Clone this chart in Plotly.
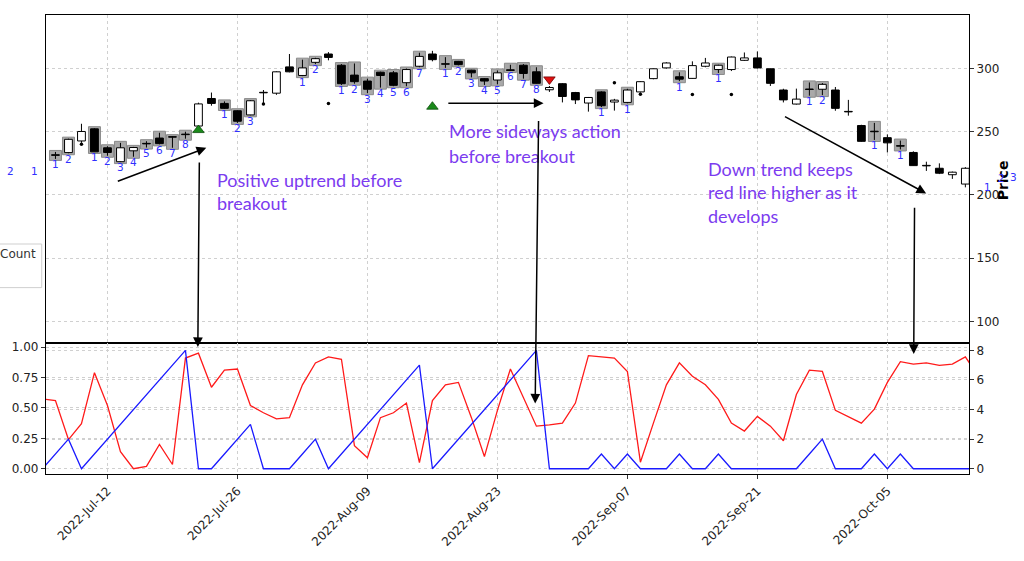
import plotly.graph_objects as go

# ---------------- data ----------------
dates = [
    "2022-07-05", "2022-07-06", "2022-07-07", "2022-07-08", "2022-07-11", "2022-07-12", "2022-07-13",
    "2022-07-14", "2022-07-15", "2022-07-18", "2022-07-19", "2022-07-20", "2022-07-21", "2022-07-22",
    "2022-07-25", "2022-07-26", "2022-07-27", "2022-07-28", "2022-07-29",
    "2022-08-01", "2022-08-02", "2022-08-03", "2022-08-04", "2022-08-05", "2022-08-08", "2022-08-09",
    "2022-08-10", "2022-08-11", "2022-08-12", "2022-08-15", "2022-08-16", "2022-08-17", "2022-08-18",
    "2022-08-19", "2022-08-22", "2022-08-23", "2022-08-24", "2022-08-25", "2022-08-26", "2022-08-29",
    "2022-08-30", "2022-08-31",
    "2022-09-01", "2022-09-02", "2022-09-06", "2022-09-07", "2022-09-08", "2022-09-09", "2022-09-12",
    "2022-09-13", "2022-09-14", "2022-09-15", "2022-09-16", "2022-09-19", "2022-09-20", "2022-09-21",
    "2022-09-22", "2022-09-23", "2022-09-26", "2022-09-27", "2022-09-28", "2022-09-29", "2022-09-30",
    "2022-10-03", "2022-10-04", "2022-10-05", "2022-10-06", "2022-10-07", "2022-10-10", "2022-10-11",
    "2022-10-12", "2022-10-13", "2022-10-14",
]
candle_dates = dates[1:72]

opens = [231.8, 233.5, 242.7, 252.3, 237.3, 226.3, 234.9, 240.8, 245.0, 246.1,
         248.1, 254.5, 276.3, 272.4, 266.6, 263.3, 281.2, 280.5, 301.3, 294.5,
         304.9, 311.5, 302.6, 294.8, 290.1, 297.1, 296.6, 288.8, 301.8, 311.5,
         303.8, 305.7, 298.7, 292.0, 290.9, 299.0, 302.6, 297.4, 283.2, 288.0,
         281.0, 272.7, 281.5, 273.5, 273.2, 281.5, 292.0, 300.5, 293.5, 292.2,
         301.8, 299.2, 299.2, 306.5, 308.4, 299.8, 283.0, 271.9, 283.8, 283.6,
         283.0, 266.1, 254.9, 250.4, 245.3, 239.0, 233.6, 223.4, 221.1, 216.0,
         208.6]
highs = [234.0, 244.5, 256.3, 252.8, 238.5, 241.2, 238.0, 242.5, 249.2, 246.5,
         250.0, 273.0, 281.0, 274.0, 267.0, 275.0, 283.0, 297.8, 311.5, 307.0,
         308.5, 313.0, 303.5, 304.0, 292.0, 297.5, 298.0, 300.0, 312.5, 314.0,
         309.0, 306.0, 299.0, 292.5, 298.5, 303.0, 303.5, 301.0, 286.2, 288.5,
         281.5, 277.5, 282.0, 276.0, 284.0, 290.0, 300.0, 305.0, 297.0, 305.7,
         308.4, 303.0, 309.5, 312.7, 313.5, 300.0, 284.0, 284.1, 289.0, 288.5,
         285.4, 275.2, 255.5, 257.0, 247.9, 243.0, 234.5, 226.3, 225.0, 218.5,
         222.0]
lows = [228.5, 233.0, 241.2, 234.0, 231.0, 226.0, 230.2, 237.5, 240.0, 237.3,
        244.5, 254.0, 270.6, 268.0, 257.0, 263.0, 272.5, 279.2, 297.0, 294.0,
        303.5, 306.5, 287.0, 288.0, 280.5, 284.9, 286.0, 286.0, 301.0, 305.7,
        300.5, 302.5, 293.0, 287.0, 287.5, 298.0, 292.0, 288.0, 281.5, 273.2,
        271.9, 265.9, 269.5, 266.7, 272.5, 281.0, 291.5, 300.0, 290.0, 292.0,
        301.0, 296.5, 298.0, 306.0, 300.0, 286.2, 273.2, 271.5, 278.5, 279.0,
        266.6, 262.7, 242.0, 243.5, 233.6, 236.0, 223.0, 219.0, 216.5, 212.7,
        206.0]
closes = [231.3, 244.0, 250.2, 234.1, 233.6, 237.3, 237.5, 240.4, 240.6, 245.7,
          247.7, 272.0, 272.4, 268.5, 258.3, 274.5, 280.8, 297.4, 297.4, 300.5,
          307.8, 308.8, 288.0, 289.6, 283.6, 294.5, 286.7, 299.2, 309.6, 307.0,
          303.4, 303.1, 296.6, 290.1, 296.6, 298.5, 296.1, 288.3, 285.0, 277.9,
          275.2, 277.1, 270.6, 275.0, 283.0, 289.6, 299.8, 304.4, 291.6, 302.3,
          304.4, 302.6, 309.1, 308.4, 300.5, 288.3, 275.2, 275.8, 283.4, 287.5,
          268.5, 265.7, 242.4, 250.0, 241.2, 238.6, 223.2, 223.0, 217.2, 218.0,
          221.1]

# consolidation count (right axis of lower panel), one per entry of dates
count = [0, 1, 2, 0, 1, 2, 3, 4, 5, 6, 7, 8, 0, 0, 1, 2, 3, 0, 0, 0,
         1, 2, 0, 1, 2, 3, 4, 5, 6, 7, 0, 1, 2, 3, 4, 5, 6, 7, 8, 0,
         0, 0, 0, 1, 0, 1, 0, 0, 0, 1, 0, 0, 1, 0, 0, 0, 0, 0, 0, 1,
         2, 0, 0, 0, 1, 0, 1, 0, 0, 0, 0, 0, 0]
# red ratio line (left axis of lower panel), one per entry of dates
ratio = [0.575, 0.56, 0.24, 0.37, 0.79, 0.52, 0.14, 0.00, 0.02, 0.20,
         0.035, 0.91, 0.95, 0.67, 0.81, 0.82, 0.52, 0.46, 0.41, 0.42,
         0.69, 0.87, 0.92, 0.90, 0.19, 0.09, 0.42, 0.46, 0.54, 0.05,
         0.56, 0.69, 0.71, 0.42, 0.10, 0.48, 0.82, 0.585, 0.35, 0.36,
         0.375, 0.54, 0.93, 0.92, 0.91, 0.80, 0.054, 0.375, 0.69, 0.87,
         0.76, 0.69, 0.57, 0.375, 0.31, 0.43, 0.35, 0.23, 0.61, 0.81,
         0.80, 0.48, 0.43, 0.375, 0.49, 0.71, 0.88, 0.86, 0.87, 0.85,
         0.86, 0.92, 0.76]

up_signal_dates = ["2022-07-21", "2022-08-16"]
up_signal_prices = [251.3, 269.8]
down_signal_dates = ["2022-08-29"]
down_signal_prices = [291.4]
dot_dates = ["2022-07-08", "2022-07-28", "2022-08-04", "2022-09-06", "2022-09-08", "2022-09-14", "2022-09-19"]
dot_prices = [240.1, 271.9, 272.4, 288.8, 279.7, 279.4, 279.4]

tick_dates = ["2022-07-12", "2022-07-26", "2022-08-09", "2022-08-23", "2022-09-07", "2022-09-21", "2022-10-05"]
tick_labels = ["2022-Jul-12", "2022-Jul-26", "2022-Aug-09", "2022-Aug-23", "2022-Sep-07", "2022-Sep-21", "2022-Oct-05"]
price_ticks = [100, 150, 200, 250, 300]
ratio_ticks = [0, 0.25, 0.5, 0.75, 1.0]
ratio_tick_text = ["0.00", "0.25", "0.50", "0.75", "1.00"]
count_ticks = [0, 2, 4, 6, 8]

# ---------------- build ----------------
pos = {d: i for i, d in enumerate(dates)}
cx = [pos[d] for d in candle_dates]
tickpos = [pos[d] for d in tick_dates]

W, H = 1024, 561
L, R, T, B = 42, 969, 15, 478


def px(x):
    return (x - L) / (R - L)


def py(y):
    return (B - y) / (B - T)


split = (B - 346) / (B - T)
XR = [0.272, 71.28]
TXT = "#222222"
BLUE_LBL = "#3030ff"
PURPLE = "#7b3bef"
GRID = dict(showgrid=True, gridcolor="#d0d0d0", griddash="3px,3px", gridwidth=0.8)
FRAME = dict(showline=True, mirror=True, linecolor="black", linewidth=1.3, zeroline=False)

fig = go.Figure()

# consolidation boxes
pad = 1.2
bx, bb, bh, bt = [], [], [], []
for i, d in enumerate(candle_dates):
    c = count[pos[d]]
    if c > 0:
        bx.append(pos[d])
        bb.append(lows[i] - pad)
        bh.append(highs[i] - lows[i] + 2 * pad)
        bt.append(str(c))
fig.add_trace(go.Bar(x=bx, y=bh, base=bb, width=0.92, xaxis="x", yaxis="y",
                     marker=dict(color="#a9a9a9", line=dict(color="#8a8a8a", width=1)),
                     hoverinfo="skip"))

# candle bodies
body_base = [min(o, c) for o, c in zip(opens, closes)]
body_h = [max(abs(c - o), 0.35) for o, c in zip(opens, closes)]
body_col = ["white" if c >= o else "black" for o, c in zip(opens, closes)]
fig.add_trace(go.Bar(x=cx, y=body_h, base=body_base, width=0.6, xaxis="x", yaxis="y",
                     marker=dict(color=body_col, line=dict(color="black", width=1)),
                     hoverinfo="skip"))

# wicks (outside the body)
wx, wy = [], []
for x, o, h, l, c in zip(cx, opens, highs, lows, closes):
    top, bot = max(o, c), min(o, c)
    if h > top:
        wx += [x, x, None]
        wy += [top, h, None]
    if l < bot:
        wx += [x, x, None]
        wy += [l, bot, None]
fig.add_trace(go.Scatter(x=wx, y=wy, mode="lines", line=dict(color="black", width=1),
                         xaxis="x", yaxis="y", hoverinfo="skip"))

# count labels
fig.add_trace(go.Scatter(x=bx, y=bb, mode="text", text=bt, textposition="bottom center",
                         textfont=dict(family="DejaVu Sans", size=10.5, color=BLUE_LBL),
                         xaxis="x", yaxis="y", hoverinfo="skip", cliponaxis=False))

# signals
fig.add_trace(go.Scatter(x=[pos[d] for d in dot_dates], y=dot_prices, mode="markers",
                         marker=dict(symbol="circle", size=3.5, color="black"),
                         xaxis="x", yaxis="y", hoverinfo="skip"))
fig.add_trace(go.Scatter(x=[pos[d] for d in up_signal_dates], y=up_signal_prices, mode="markers",
                         marker=dict(symbol="triangle-up", size=10, color="#1a8a1a",
                                     line=dict(color="#0b4d0b", width=0.8)),
                         xaxis="x", yaxis="y", hoverinfo="skip"))
fig.add_trace(go.Scatter(x=[pos[d] for d in down_signal_dates], y=down_signal_prices, mode="markers",
                         marker=dict(symbol="triangle-down", size=10, color="#e01010",
                                     line=dict(color="#700000", width=0.8)),
                         xaxis="x", yaxis="y", hoverinfo="skip"))

# lower panel
allx = list(range(len(dates)))
fig.add_trace(go.Scatter(x=allx, y=ratio, mode="lines", line=dict(color="#ff1a1a", width=1.3),
                         xaxis="x2", yaxis="y2", hoverinfo="skip"))
fig.add_trace(go.Scatter(x=allx, y=count, mode="lines", line=dict(color="#1a1aff", width=1.3),
                         xaxis="x2", yaxis="y3", hoverinfo="skip"))

tickfont = dict(family="DejaVu Sans", size=12, color=TXT)
fig.update_layout(
    width=W, height=H, margin=dict(l=L, r=W - R, t=T, b=H - B),
    paper_bgcolor="white", plot_bgcolor="white", showlegend=False, barmode="overlay",
    xaxis=dict(domain=[0, 1], anchor="y", range=XR, tickvals=tickpos, showticklabels=False,
               ticks="", **FRAME, **GRID),
    yaxis=dict(domain=[split, 1], anchor="x", side="right", range=[82.75, 342.35],
               tickvals=price_ticks, ticks="outside", ticklen=4, tickcolor="#333",
               tickfont=tickfont, **FRAME, **GRID),
    xaxis2=dict(domain=[0, 1], anchor="y2", range=XR, tickvals=tickpos, ticktext=tick_labels,
                tickangle=-45, ticks="outside", ticklen=4, tickcolor="#333",
                tickfont=tickfont, **FRAME, **GRID),
    yaxis2=dict(domain=[0, split], anchor="x2", side="left", range=[-0.0432, 1.0326],
                tickvals=ratio_ticks, ticktext=ratio_tick_text, ticks="outside", ticklen=4,
                tickcolor="#333", tickfont=tickfont, **FRAME, **GRID),
    yaxis3=dict(overlaying="y2", anchor="x2", side="right", range=[-0.355, 8.49],
                tickvals=count_ticks, ticks="outside", ticklen=4, tickcolor="#333",
                showline=False, zeroline=False, tickfont=tickfont, **GRID),
)

ann = []
# axis title
ann.append(dict(text="<b>Price</b>", x=px(1013), y=py(182), xref="paper", yref="paper",
                textangle=-90, showarrow=False,
                font=dict(family="DejaVu Sans", size=14, color="black")))
# stray count labels outside the axes
for t, x, y in [("2", 1, 172), ("1", 24.5, 172.5), ("1", 993, 188), ("2", 1007, 179), ("3", 1019, 178)]:
    ann.append(dict(text=t, x=px(x), y=py(y), xref="paper", yref="paper", showarrow=False,
                    font=dict(family="DejaVu Sans", size=10.5, color=BLUE_LBL)))
# legend fragment
ann.append(dict(text="Count", x=px(34), y=py(256), xref="paper", yref="paper", xanchor="right",
                showarrow=False, font=dict(family="DejaVu Sans", size=12, color="#333333")))
# commentary
notes = [
    ("Positive uptrend before", 212, 181), ("breakout", 212, 205),
    ("More sideways action", 445, 132), ("before breakout", 445, 157),
    ("Down trend keeps", 705, 170), ("red line higher as it", 705, 194), ("develops", 705, 218),
]
for t, x, y in notes:
    ann.append(dict(text=t, x=px(x), y=py(y), xref="paper", yref="paper", xanchor="left",
                    yanchor="middle", showarrow=False,
                    font=dict(family="Lato", size=18, color=PURPLE)))
# arrows: (head_x, head_y, tail_x, tail_y) in pixels
arrows = [(203, 149, 113, 183), (194.5, 350, 196, 164), (541.7, 104, 445, 104),
          (533.3, 407, 536.7, 123), (926, 195, 783.3, 117.3), (913.5, 357, 914.3, 209.3)]
for hx, hy, tx, ty in arrows:
    ann.append(dict(text="", x=px(hx), y=py(hy), xref="paper", yref="paper",
                    ax=tx - hx, ay=ty - hy, axref="pixel", ayref="pixel",
                    showarrow=True, arrowhead=2, arrowsize=1.3, arrowwidth=1.5,
                    arrowcolor="black", standoff=0))
fig.update_layout(annotations=ann)

fig.update_layout(shapes=[dict(type="rect", xref="paper", yref="paper",
                               x0=px(-10), x1=px(37.7), y0=py(290), y1=py(246),
                               line=dict(color="#cfcfcf", width=1), fillcolor="white",
                               layer="below")])

fig.write_html("out.html", config={"displayModeBar": False},
               post_script="document.body.style.margin='0px';")
